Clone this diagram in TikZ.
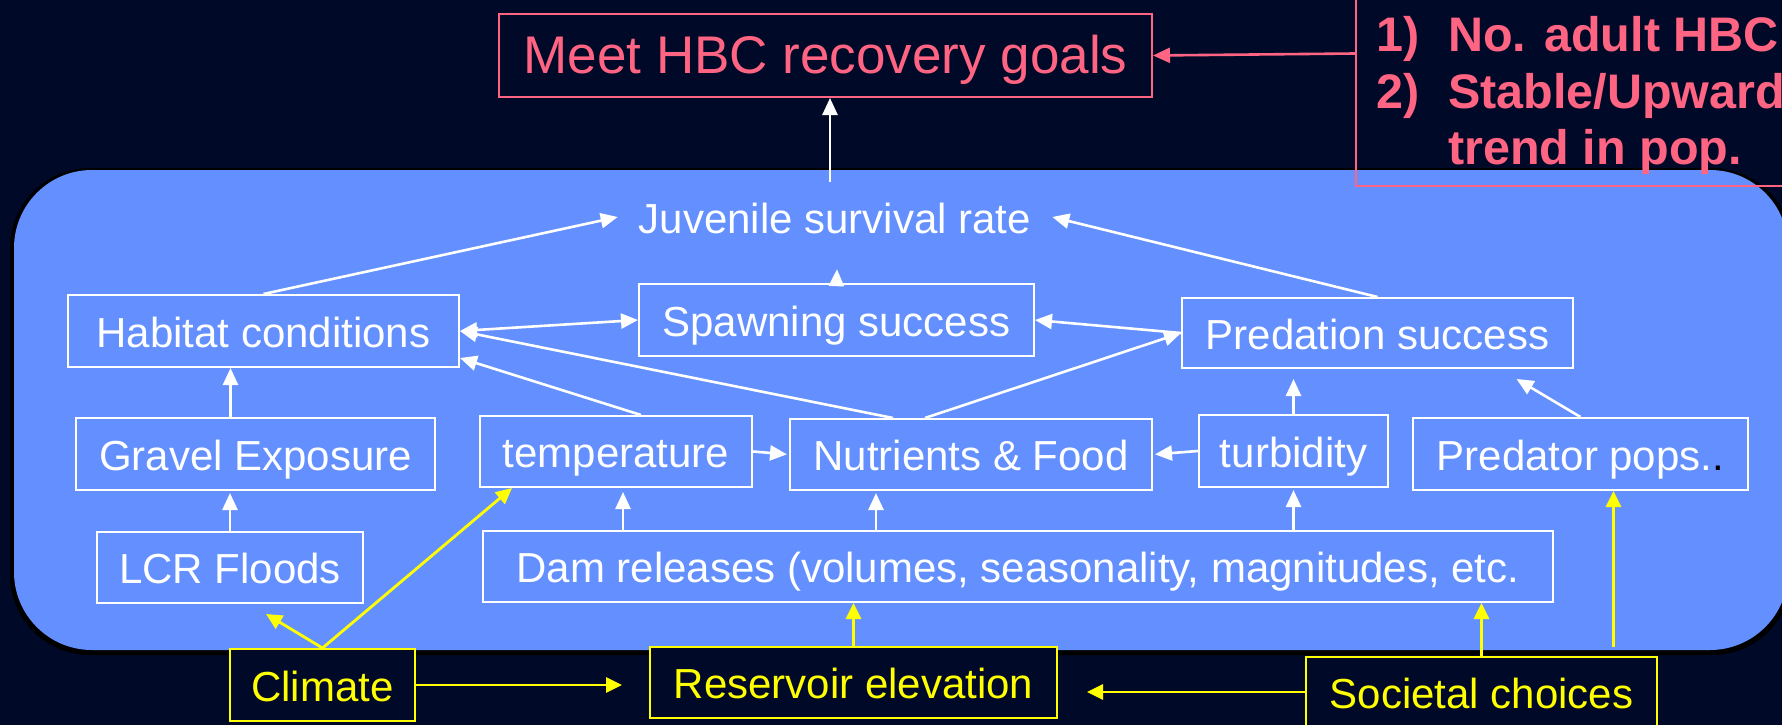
\documentclass[tikz,border=0pt]{standalone}
\usepackage{fontspec}
\setmainfont{Liberation Sans}
\usetikzlibrary{arrows.meta,calc}
\definecolor{bgc}{HTML}{000A28}
\definecolor{bluec}{HTML}{6390FE}
\definecolor{pinkc}{HTML}{FF6482}
\definecolor{yelc}{HTML}{FFFF00}
\newcommand{\nfont}{\fontsize{42}{48}\selectfont}
\newcommand{\gfont}{\fontsize{53}{60}\selectfont}
\newcommand{\lfont}{\fontsize{48.5}{54}\selectfont\bfseries}
\tikzset{
  wbox/.style={draw=white, line width=2pt, text=white, font=\nfont, inner sep=0pt, text height=34pt, text depth=2pt},
  ybox/.style={draw=yelc, line width=2pt, fill=bgc, text=yelc, font=\nfont, inner sep=0pt, text height=34pt, text depth=2pt},
  wtext/.style={text=white, font=\nfont, inner xsep=21pt, inner ysep=10pt, text height=34pt, text depth=2pt},
  ltext/.style={text=pinkc, font=\lfont, inner sep=0pt, anchor=base west},
  wa/.style={draw=white, line width=2.6pt, arrows={-Triangle[length=17pt,width=15pt]}},
  wda/.style={draw=white, line width=2.6pt, arrows={Triangle[length=17pt,width=15pt]-Triangle[length=17pt,width=15pt]}},
  ya/.style={draw=yelc, line width=2.8pt, arrows={-Triangle[length=16pt,width=15pt]}},
  pa/.style={draw=pinkc, line width=2.6pt, arrows={-Triangle[length=17pt,width=15pt]}}
}
\begin{document}
\begin{tikzpicture}[x=1pt,y=-1pt]
\useasboundingbox (0,0) rectangle (1782,725);
\clip (0,0) rectangle (1782,725);
\fill[bgc] (0,0) rectangle (1782,725);
% blue region with shadow
\fill[black, rounded corners=80pt] (10,168) rectangle (1792,655);
\fill[bluec, rounded corners=78pt] (14,170) rectangle (1788,650);

% goal and criteria
\node[draw=pinkc, line width=2pt, text=pinkc, font=\gfont, inner sep=0pt, text height=40pt, text depth=3pt,
      minimum width=653pt, minimum height=83pt] (goal) at (825.5,55.5) {Meet HBC recovery goals};
\node[draw=pinkc, line width=2pt, minimum width=444pt, minimum height=191pt, inner sep=0pt] (crit) at (1578,90.5) {};
\node[ltext] (c1n) at (1376,52) {1)};
\node[ltext] (c1t) at (1448,52) {No. adult HBC};
\node[ltext] (c2n) at (1376,108) {2)};
\node[ltext] (c2t) at (1448,108) {Stable/Upward};
\node[ltext] (c3t) at (1448,164) {trend in pop.};

% white nodes
\node[wtext] (juv) at (835,217) {Juvenile survival rate};
\node[wbox, minimum width=391pt, minimum height=72pt] (hab) at (263.5,331) {Habitat conditions};
\node[wbox, minimum width=395pt, minimum height=72pt] (spawn) at (836.5,320) {Spawning success};
\node[wbox, minimum width=391pt, minimum height=70pt] (pred) at (1377.5,333) {Predation success};
\node[wbox, minimum width=359pt, minimum height=72pt] (gravel) at (255.5,454) {Gravel Exposure};
\node[wbox, minimum width=272pt, minimum height=71pt] (temp) at (616,451.5) {temperature};
\node[wbox, minimum width=362pt, minimum height=71pt] (nutr) at (971,454.5) {Nutrients \& Food};
\node[wbox, minimum width=189pt, minimum height=72pt] (turb) at (1293.5,451) {turbidity};
\node[wbox, minimum width=335pt, minimum height=72pt] (predpop) at (1580.5,454) {Predator pops.{\color{black}.}};
\node[wbox, minimum width=266pt, minimum height=71pt] (lcr) at (230,567.5) {LCR Floods};
\node[wbox, minimum width=1070pt, minimum height=71pt] (dam) at (1018,566.5) {Dam releases (volumes, seasonality, magnitudes, etc.};

% yellow nodes
\node[ybox, minimum width=185pt, minimum height=72pt] (climate) at (322.5,685) {Climate};
\node[ybox, minimum width=407pt, minimum height=71pt] (res) at (853.5,682.5) {Reservoir elevation};
\node[ybox, minimum width=351pt, minimum height=70pt] (soc) at (1481.5,692) {Societal choices};

% pink arrow
\draw[pa] ([yshift=37pt]crit.west) -- (goal.east);

% white arrows
\coordinate (tc) at ([xshift=-5pt]juv.north);
\draw[wa, shorten <=7pt] (tc) -- (tc |- goal.south);
\draw[wa] (hab.north) -- (juv.west);
\draw[wa] (pred.north) -- (juv.east);
\draw[wa] (spawn.north) -- ([xshift=2pt,yshift=-24pt]juv.south);
\draw[wda] (hab.east) -- (spawn.west);
\draw[wa] (pred.west) -- (spawn.east);
\draw[wa] ([xshift=-78pt]nutr.north) -- (hab.east);
\draw[wa] ([xshift=25pt]temp.north) -- ([yshift=10pt]hab.south east);
\draw[wa] ([xshift=-46pt]nutr.north) -- (pred.west);
\draw[wa, shorten >=2pt] (temp.east) -- (nutr.west);
\draw[wa, shorten >=2pt] (turb.west) -- (nutr.east);
\draw[wa, shorten >=10pt] (turb.north) -- (turb.north |- pred.south);
\draw[wa] (predpop.north) -- ([xshift=139pt,yshift=-10pt]pred.south);
\draw[wa, shorten >=4pt] ([xshift=7pt]temp.south |- dam.north) -- ([xshift=7pt]temp.south);
\draw[wa, shorten >=2pt] ([xshift=-95pt]nutr.south |- dam.north) -- ([xshift=-95pt]nutr.south);
\draw[wa, shorten >=2pt] (turb.south |- dam.north) -- (turb.south);
\draw[wa] ([xshift=-25pt]gravel.north) -- ([xshift=-25pt]gravel.north |- hab.south);
\draw[wa, shorten >=2pt] (lcr.north) -- (lcr.north |- gravel.south);

% yellow arrows
\draw[ya] (climate.north) -- ([xshift=36pt,yshift=-10pt]lcr.south);
\draw[ya] (climate.north) -- ([xshift=33pt]temp.south west);
\draw[ya, shorten >=27pt] (climate.east) -- (climate.east -| res.west);
\draw[ya, shorten >=29pt] (soc.west) -- (soc.west -| res.east);
\draw[ya] (res.north) -- (res.north |- dam.south);
\draw[ya] (soc.north) -- (soc.north |- dam.south);
\coordinate (pp) at ([xshift=33pt]predpop.south);
\draw[ya, shorten <=9pt] (pp |- soc.north) -- (pp);
\end{tikzpicture}
\end{document}
